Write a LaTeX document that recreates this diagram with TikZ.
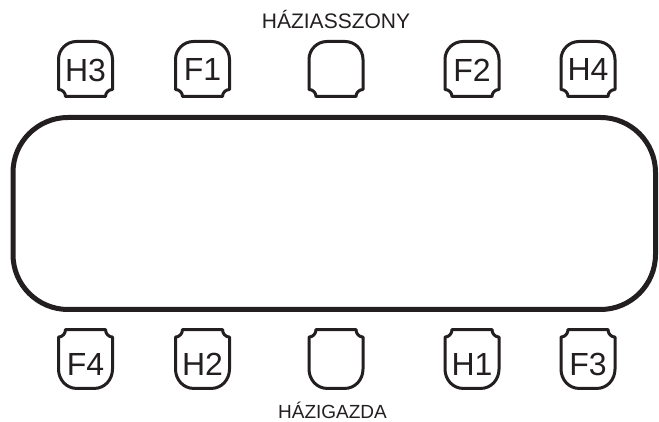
\documentclass[tikz,border=0pt]{standalone}
\usepackage{fontspec}
\setmainfont{Liberation Sans}
\usepackage{tikz}
\definecolor{inkblk}{HTML}{231F20}
\tikzset{
  tableln/.style = {draw=inkblk, line width=5pt, rounded corners=55pt},
  chairln/.style = {draw=inkblk, line width=3pt, line join=round},
  seatlbl/.style = {inner sep=0pt, text=inkblk, font=\fontsize{32}{32}\selectfont},
  hostlbl/.style = {inner sep=0pt, text=inkblk, font=\fontsize{21}{21}\selectfont},
  % chair seen from above, rounded back up, notched front down
  chair/.pic = {
    \draw[chairln] (-20,-27.5) -- (20,-27.5)
      arc[start angle=180, end angle=90, radius=7] -- (27,9.5)
      arc[start angle=0, end angle=90, radius=18] -- (-9,27.5)
      arc[start angle=90, end angle=180, radius=18] -- (-27,-20.5)
      arc[start angle=90, end angle=0, radius=7] -- cycle;
  }
}

\begin{document}
\begin{tikzpicture}[x=1pt,y=1pt]
  \useasboundingbox (0,0) rectangle (659,422);
  % the table
  \draw[tableln] (13,112.5) rectangle (655.5,304.5);
  % chairs on the far side
  \foreach \cx/\lab/\nm in {85.5/H3/h3, 202.5/F1/f1, 336//hs, 472/F2/f2, 588/H4/h4}
  {
    \pic at (\cx,353) {chair};
    \node[seatlbl] (\nm) at (\cx,352) {\lab};
  }
  % chairs on the near side
  \foreach \cx/\lab/\nm in {85.5/F4/f4, 202.5/H2/h2, 336//hg, 472/H1/h1, 588/F3/f3}
  {
    \pic[yscale=-1.07] at (\cx,63) {chair};
    \node[seatlbl] (\nm) at (\cx,57.5) {\lab};
  }
  \node[hostlbl] (hostess) at (336,402) {HÁZIASSZONY};
  \node[hostlbl,font=\fontsize{19}{19}\selectfont] (host) at (332.5,12) {HÁZIGAZDA};
\end{tikzpicture}
\end{document}
